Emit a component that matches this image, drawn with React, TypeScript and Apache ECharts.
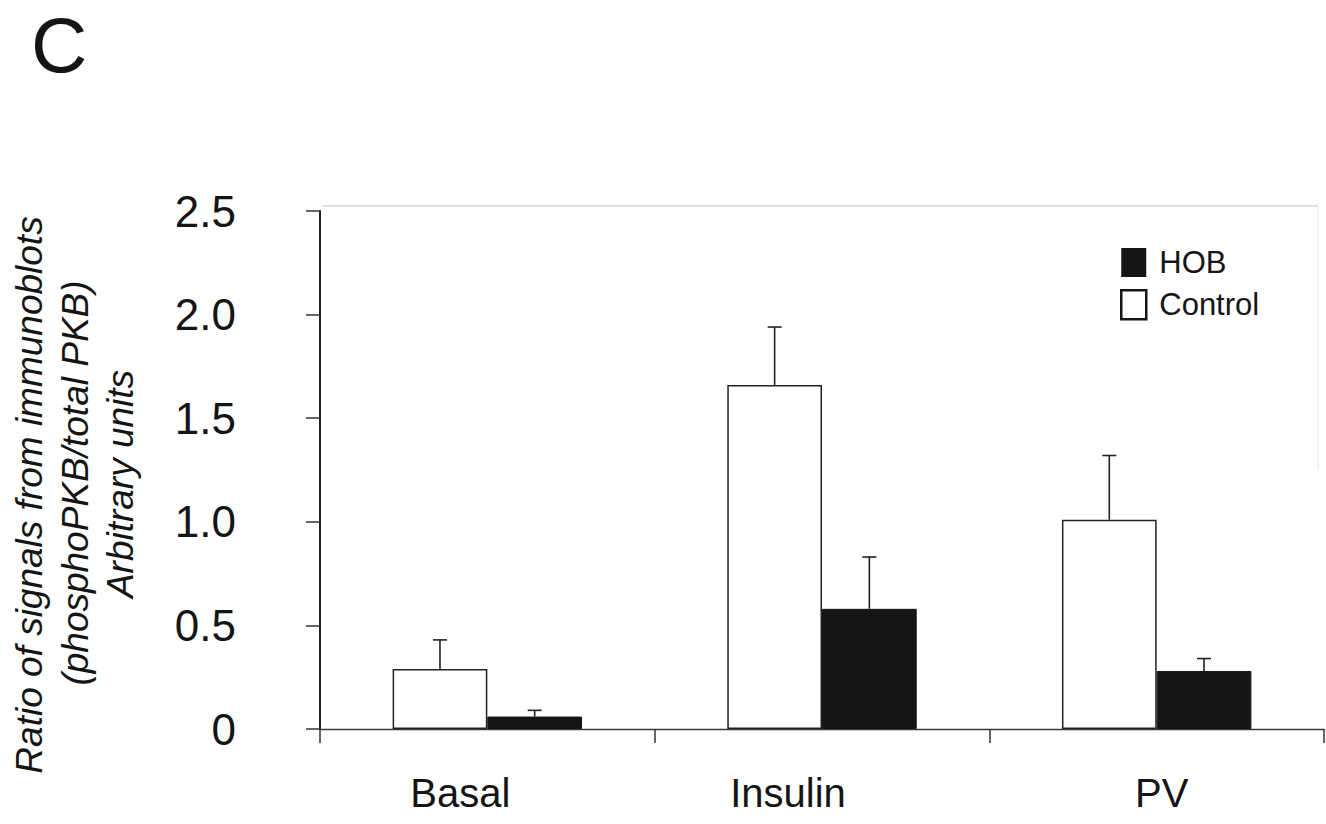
import React, { useEffect, useRef } from "react";
import * as echarts from "echarts";

const categories = ["Basal", "Insulin", "PV"];
const controlMean = [0.29, 1.66, 1.01];
const controlSem = [0.14, 0.28, 0.31];
const hobMean = [0.06, 0.58, 0.28];
const hobSem = [0.03, 0.25, 0.06];
const yMin = 0;
const yMax = 2.5;
const yInterval = 0.5;

// label horizontal nudges (style only)
const labelShift = [-27, -34, 5];

const FONT = "'Liberation Sans', Arial, Helvetica, sans-serif";
const INK = "#151515";

function errorSeries(name: string, mean: number[], sem: number[], sign: number) {
  return {
    type: "custom",
    name: name + " SEM",
    z: 5,
    encode: { x: 0, y: [1, 2] },
    data: categories.map((_, i) => [i, mean[i], mean[i] + sem[i]]),
    renderItem: (params: any, api: any) => {
      const i = api.value(0);
      const m = api.value(1);
      const hi = api.value(2);
      const band = api.size([1, 0])[0];
      const base = api.coord([i, m]);
      const top = api.coord([i, hi]);
      const x = base[0] + sign * band * 0.1415;
      const st = { stroke: "#222", lineWidth: 1.6 };
      return {
        type: "group",
        children: [
          { type: "line", shape: { x1: x, y1: base[1], x2: x, y2: top[1] }, style: st },
          { type: "line", shape: { x1: x - 7, y1: top[1], x2: x + 7, y2: top[1] }, style: st },
        ],
      };
    },
  };
}

export default function App() {
  const ref = useRef<HTMLDivElement>(null);
  useEffect(() => {
    if (!ref.current) return;
    const chart = echarts.init(ref.current, undefined, { renderer: "svg" });
    const rich: any = {};
    categories.forEach((_, i) => {
      const s = labelShift[i];
      rich["c" + i] = {
        fontSize: 40,
        fontFamily: FONT,
        color: INK,
        padding: s < 0 ? [0, -2 * s, 0, 0] : [0, 0, 0, 2 * s],
      };
    });
    chart.setOption({
      animation: false,
      backgroundColor: "#ffffff",
      textStyle: { fontFamily: FONT },
      grid: { left: 320, right: 2, top: 211, bottom: 95, containLabel: false },
      legend: {
        orient: "vertical",
        left: 1120,
        top: 247,
        padding: 0,
        itemWidth: 25,
        itemHeight: 29,
        itemGap: 11,
        icon: "rect",
        selectedMode: false,
        textStyle: { fontSize: 31, color: INK, fontFamily: FONT, padding: [0, 0, 0, 8] },
        data: [
          { name: "HOB", itemStyle: { color: "#151515", borderColor: "#151515", borderWidth: 0 } },
          { name: "Control", itemStyle: { color: "#ffffff", borderColor: "#151515", borderWidth: 2.5 } },
        ],
      },
      xAxis: {
        type: "category",
        data: categories,
        axisLine: { show: true, lineStyle: { color: "#3a3a3a", width: 1.3 } },
        axisTick: { show: true, length: 14, alignWithLabel: false, lineStyle: { color: "#333", width: 1.5 } },
        axisLabel: {
          margin: 44,
          formatter: (v: string) => {
            const i = categories.indexOf(v);
            return "{c" + i + "|" + v + "}";
          },
          rich,
        },
        splitLine: { show: false },
      },
      yAxis: {
        type: "value",
        min: yMin,
        max: yMax,
        interval: yInterval,
        axisLine: { show: true, lineStyle: { color: "#222", width: 2 } },
        axisTick: { show: true, length: 14, lineStyle: { color: "#333", width: 1.5 } },
        axisLabel: {
          margin: 84,
          fontSize: 44,
          color: INK,
          fontFamily: FONT,
          formatter: (v: number) => (v === 0 ? "0" : v.toFixed(1)),
        },
        splitLine: { show: false },
      },
      series: [
        {
          name: "Control",
          type: "bar",
          data: controlMean,
          barWidth: "28.3%",
          barGap: "0%",
          itemStyle: { color: "#ffffff", borderColor: "#222", borderWidth: 1.5 },
        },
        {
          name: "HOB",
          type: "bar",
          data: hobMean,
          barWidth: "28.3%",
          barGap: "0%",
          itemStyle: { color: "#151515", borderColor: "#151515", borderWidth: 1 },
        },
        errorSeries("Control", controlMean, controlSem, -1),
        errorSeries("HOB", hobMean, hobSem, 1),
      ],
      graphic: [
        {
          type: "text",
          x: 31,
          y: 45,
          style: {
            text: "C",
            fontSize: 78,
            fontFamily: FONT,
            fill: INK,
            textAlign: "left",
            textVerticalAlign: "middle",
          },
        },
        {
          type: "text",
          x: 29,
          y: 495,
          rotation: Math.PI / 2,
          style: {
            text: "Ratio of signals from immunoblots",
            fontSize: 37,
            fontStyle: "italic",
            fontFamily: FONT,
            fill: INK,
            textAlign: "center",
            textVerticalAlign: "middle",
          },
        },
        {
          type: "text",
          x: 75,
          y: 483,
          rotation: Math.PI / 2,
          style: {
            text: "(phosphoPKB/total PKB)",
            fontSize: 37,
            fontStyle: "italic",
            fontFamily: FONT,
            fill: INK,
            textAlign: "center",
            textVerticalAlign: "middle",
          },
        },
        {
          type: "text",
          x: 120,
          y: 484,
          rotation: Math.PI / 2,
          style: {
            text: "Arbitrary units",
            fontSize: 37,
            fontStyle: "italic",
            fontFamily: FONT,
            fill: INK,
            textAlign: "center",
            textVerticalAlign: "middle",
          },
        },
        {
          type: "line",
          shape: { x1: 322, y1: 206, x2: 1318, y2: 206 },
          style: { stroke: "#d6d6d6", lineWidth: 1.5 },
          silent: true,
        },
        {
          type: "line",
          shape: { x1: 1318, y1: 206, x2: 1318, y2: 470 },
          style: { stroke: "#efefef", lineWidth: 1.5 },
          silent: true,
        },
      ],
    });
    return () => chart.dispose();
  }, []);
  return (
    <div
      ref={ref}
      style={{ position: "fixed", left: 0, top: 0, width: 1326, height: 824, background: "#fff" }}
    />
  );
}
